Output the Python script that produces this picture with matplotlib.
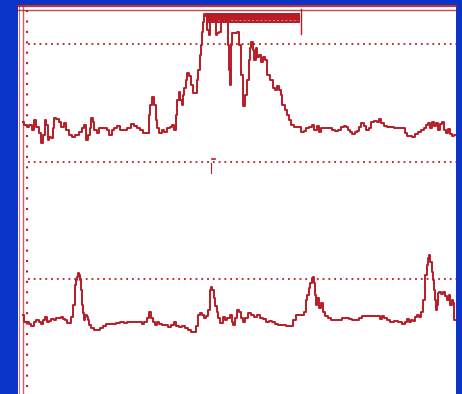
import numpy as np
import matplotlib.pyplot as plt
from matplotlib.patches import Rectangle

# chart paper colours
BLUE = '#0a34c8'
INK = '#b81c26'

# upper channel: (time, pen position)
ch1_t = [23, 25, 28, 30, 33, 35, 37, 40, 42, 44, 45, 47, 48, 50, 52, 53, 55, 57, 60, 62,
         65, 67, 70, 73, 77, 80, 83, 85, 87, 89, 90, 92, 93, 95, 98, 100, 105, 108, 110, 113,
         115, 118, 122, 125, 128, 130, 132, 135, 138, 141, 145, 148, 149, 151, 153, 155, 156, 157, 160, 163,
         165, 168, 171, 173, 175, 176, 178, 179, 181, 182, 183, 185, 186, 188, 190, 192, 194, 196, 197, 199,
         200, 201, 202, 203, 204, 206, 208, 209, 211, 213, 215, 216, 218, 220, 222, 225, 227, 228, 229, 230,
         231, 233, 236, 238, 240, 242, 244, 246, 248, 249, 250, 252, 253, 255, 256, 258, 260, 262, 264, 266,
         268, 271, 274, 276, 278, 280, 281, 283, 286, 288, 290, 292, 295, 300, 302, 305, 307, 310, 313, 315,
         318, 320, 322, 326, 330, 333, 336, 339, 342, 345, 347, 349, 351, 353, 356, 358, 360, 362, 365, 367,
         370, 372, 375, 378, 380, 382, 385, 388, 392, 395, 400, 404, 406, 408, 410, 413, 416, 419, 422, 425,
         427, 429, 431, 433, 435, 437, 439, 441, 443, 445, 447, 449, 451, 453, 455]
ch1_v = [122, 125, 127, 125, 130, 120, 127, 133, 143, 135, 120, 125, 140, 137, 138, 128, 118, 119, 122, 127,
         123, 130, 135, 137, 135, 132, 128, 125, 140, 135, 128, 118, 122, 130, 133, 128, 128, 130, 135, 130,
         128, 126, 130, 130, 128, 128, 124, 126, 128, 130, 133, 133, 115, 105, 97, 105, 120, 128, 133, 130,
         132, 128, 127, 125, 130, 115, 100, 92, 100, 105, 95, 88, 80, 73, 76, 85, 93, 93, 80, 70,
         55, 45, 32, 22, 14, 16, 30, 35, 22, 14, 20, 35, 33, 32, 20, 15, 18, 45, 70, 85,
         45, 33, 33, 32, 45, 75, 106, 95, 80, 60, 48, 42, 50, 60, 48, 57, 55, 62, 57, 60,
         75, 80, 88, 90, 86, 90, 95, 105, 110, 115, 120, 125, 127, 127, 132, 131, 128, 127, 125, 130,
         126, 132, 128, 128, 128, 130, 131, 130, 127, 126, 127, 130, 132, 134, 132, 131, 127, 123, 126, 130,
         128, 122, 121, 122, 119, 123, 126, 127, 127, 128, 128, 128, 133, 136, 136, 137, 134, 132, 130, 128,
         125, 123, 128, 122, 126, 123, 130, 124, 122, 130, 133, 129, 134, 136, 135]

# lower channel
ch2_t = [23, 25, 27, 30, 32, 35, 37, 40, 42, 44, 46, 48, 50, 52, 55, 57, 60, 62, 64, 66,
         68, 70, 72, 74, 75, 76, 77, 78, 79, 80, 81, 82, 83, 84, 86, 87, 88, 90, 92, 95,
         98, 101, 104, 107, 110, 114, 118, 122, 125, 128, 132, 136, 140, 143, 145, 148, 150, 152, 154, 156,
         158, 160, 163, 166, 170, 172, 175, 177, 180, 183, 186, 189, 192, 195, 197, 199, 201, 203, 205, 207,
         209, 210, 211, 213, 214, 216, 217, 219, 221, 224, 226, 228, 231, 232, 234, 236, 238, 240, 242, 244,
         246, 249, 252, 255, 258, 261, 264, 267, 270, 273, 276, 279, 284, 288, 291, 294, 297, 300, 303, 305,
         306, 308, 309, 311, 312, 313, 314, 315, 316, 318, 320, 322, 324, 326, 329, 332, 336, 340, 343, 347,
         350, 353, 357, 360, 364, 368, 372, 376, 379, 381, 383, 385, 388, 392, 396, 400, 403, 406, 408, 410,
         412, 414, 416, 418, 420, 422, 424, 426, 427, 428, 429, 431, 432, 433, 434, 435, 436, 437, 438, 440,
         442, 444, 446, 448, 449, 451, 452, 453, 455]
ch2_v = [315, 322, 322, 324, 326, 322, 320, 322, 324, 320, 317, 322, 321, 319, 320, 318, 318, 317, 319, 320,
         323, 323, 317, 305, 285, 280, 277, 273, 275, 280, 290, 305, 313, 320, 315, 317, 320, 325, 328, 330,
         330, 328, 326, 324, 324, 324, 323, 322, 323, 322, 322, 322, 322, 324, 322, 318, 312, 318, 322, 325,
         322, 324, 325, 325, 327, 325, 322, 326, 327, 326, 328, 330, 332, 332, 326, 315, 313, 315, 318, 316,
         310, 290, 287, 290, 298, 306, 312, 318, 323, 317, 320, 318, 315, 322, 325, 318, 310, 312, 318, 322,
         318, 313, 315, 317, 315, 318, 319, 322, 321, 322, 324, 325, 325, 326, 326, 320, 315, 315, 315, 312,
         300, 295, 288, 283, 278, 277, 283, 295, 305, 298, 308, 303, 312, 316, 318, 320, 320, 320, 318, 318,
         319, 320, 320, 318, 316, 316, 316, 316, 316, 319, 316, 318, 320, 322, 321, 322, 324, 322, 319, 322,
         320, 321, 317, 315, 317, 312, 300, 275, 265, 258, 255, 262, 272, 280, 290, 300, 310, 305, 293, 292,
         294, 292, 296, 300, 295, 305, 300, 303, 320]

# grid levels and over-range block
grid_levels = [44, 162, 279]
sat_start, sat_end = 206, 300
sat_top, sat_bottom = 13, 23

fig = plt.figure(figsize=(4.62, 3.94), dpi=100)
fig.patch.set_facecolor(BLUE)
ax = fig.add_axes([0, 0, 1, 1])
ax.set_xlim(0, 462)
ax.set_ylim(394, 0)
ax.axis('off')

# white paper strip
ax.add_patch(Rectangle((18, 5), 438, 394, facecolor='white', edgecolor='none', zorder=0))

# border rules at the top and left edge of the strip
ax.plot([18, 456], [6, 6], color=INK, lw=1.6, alpha=0.9)
ax.plot([18, 456], [9.5, 9.5], color=INK, lw=1.0, alpha=0.8)
ax.plot([19, 19], [5, 394], color=INK, lw=0.8, alpha=0.6)
ax.plot([22.5, 22.5], [5, 394], color=INK, lw=1.0, alpha=0.7)
ax.plot([26.5, 26.5], [10, 394], color=INK, lw=1.5, ls=(0, (1, 4)))

# dotted level lines
for lvl in grid_levels:
    ax.plot([28, 456], [lvl, lvl], color=INK, lw=1.3, ls=(0, (1, 2.2)))

# pen stuck at the top of the scale
ax.add_patch(Rectangle((sat_start, sat_top), sat_end - sat_start, sat_bottom - sat_top,
                       facecolor=INK, edgecolor='none'))
ax.plot([sat_start + 8, sat_end - 2], [19.5, 19.5], color='white', lw=0.5, ls=(0, (3, 3)), alpha=0.6)
ax.plot([sat_end + 1, sat_end + 1], [9, 34], color=INK, lw=1.0)

# traces
ax.plot(ch1_t, ch1_v, color=INK, lw=1.4, drawstyle='steps-mid')
ax.plot(ch2_t, ch2_v, color=INK, lw=1.4, drawstyle='steps-mid')

# small stray marks
ax.plot([211, 211], [163, 173], color=INK, lw=0.8)
ax.plot([212, 215], [159, 159], color=INK, lw=1.2)

fig.savefig('out.png', dpi=100, facecolor=fig.get_facecolor())
